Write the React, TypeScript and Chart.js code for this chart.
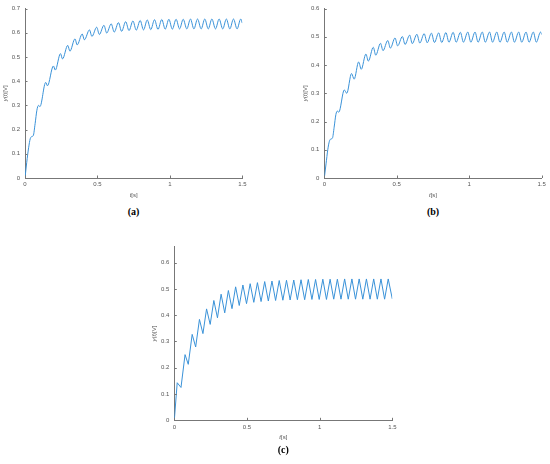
import React, { useEffect, useRef } from "react";
import { Chart, registerables } from "chart.js";

Chart.register(...registerables);

// ---------- data ----------
const xTickValues = [0, 0.5, 1, 1.5];
const yTicksA = [0, 0.1, 0.2, 0.3, 0.4, 0.5, 0.6, 0.7];
const yTicksB = [0, 0.1, 0.2, 0.3, 0.4, 0.5, 0.6];
const yTicksC = [0, 0.1, 0.2, 0.3, 0.4, 0.5, 0.6];

// (a) time [s] and output [V]
const timeA = [
  0, 0.012, 0.025, 0.036, 0.046, 0.057, 0.07, 0.082, 0.093, 0.103,
  0.143, 0.155, 0.196, 0.209, 0.245, 0.259, 0.295, 0.31, 0.345, 0.36,
  0.395, 0.41, 0.445, 0.462, 0.495, 0.513, 0.545, 0.564, 0.595, 0.616,
  0.645, 0.667, 0.695, 0.718, 0.745, 0.768, 0.795, 0.818, 0.844, 0.868,
  0.894, 0.918, 0.944, 0.968, 0.993, 1.017, 1.043, 1.067, 1.092, 1.117,
  1.142, 1.166, 1.191, 1.216, 1.241, 1.265, 1.29, 1.315, 1.34, 1.365,
  1.39, 1.414, 1.439, 1.464, 1.489, 1.5,
];
const voltA = [
  0, 0.065, 0.125, 0.162, 0.171, 0.175, 0.225, 0.28, 0.3, 0.295,
  0.395, 0.381, 0.463, 0.446, 0.514, 0.492, 0.548, 0.524, 0.575, 0.55,
  0.595, 0.571, 0.612, 0.585, 0.623, 0.593, 0.631, 0.599, 0.637, 0.603,
  0.642, 0.606, 0.646, 0.609, 0.649, 0.611, 0.651, 0.612, 0.653, 0.613,
  0.654, 0.614, 0.655, 0.615, 0.656, 0.615, 0.656, 0.616, 0.656, 0.616,
  0.657, 0.616, 0.657, 0.616, 0.657, 0.616, 0.657, 0.616, 0.657, 0.616,
  0.657, 0.616, 0.657, 0.616, 0.657, 0.64,
];

// (b)
const timeB = [
  0, 0.012, 0.024, 0.035, 0.045, 0.056, 0.068, 0.08, 0.09, 0.1,
  0.138, 0.155, 0.188, 0.206, 0.237, 0.255, 0.287, 0.304, 0.338, 0.355,
  0.388, 0.405, 0.438, 0.456, 0.488, 0.506, 0.539, 0.557, 0.589, 0.607,
  0.639, 0.659, 0.689, 0.71, 0.739, 0.76, 0.789, 0.81, 0.839, 0.86,
  0.889, 0.91, 0.939, 0.96, 0.99, 1.011, 1.04, 1.061, 1.09, 1.111,
  1.14, 1.161, 1.19, 1.212, 1.241, 1.262, 1.291, 1.312, 1.341, 1.362,
  1.392, 1.413, 1.442, 1.463, 1.492, 1.5,
];
const voltB = [
  0, 0.05, 0.1, 0.13, 0.138, 0.141, 0.18, 0.225, 0.237, 0.233,
  0.312, 0.3, 0.37, 0.35, 0.411, 0.385, 0.439, 0.414, 0.463, 0.435,
  0.477, 0.451, 0.487, 0.46, 0.496, 0.468, 0.501, 0.473, 0.506, 0.476,
  0.509, 0.478, 0.511, 0.479, 0.513, 0.48, 0.514, 0.48, 0.515, 0.481,
  0.516, 0.481, 0.516, 0.481, 0.517, 0.481, 0.517, 0.481, 0.517, 0.481,
  0.517, 0.481, 0.517, 0.481, 0.517, 0.481, 0.517, 0.481, 0.517, 0.481,
  0.517, 0.481, 0.517, 0.481, 0.517, 0.508,
];

// (c)
const timeC = [
  0, 0.02, 0.046, 0.074, 0.096, 0.123, 0.147, 0.173, 0.197, 0.222,
  0.247, 0.272, 0.297, 0.322, 0.347, 0.372, 0.397, 0.422, 0.447, 0.472,
  0.497, 0.522, 0.547, 0.572, 0.597, 0.622, 0.647, 0.672, 0.697, 0.722,
  0.747, 0.772, 0.797, 0.822, 0.847, 0.872, 0.897, 0.922, 0.947, 0.972,
  0.997, 1.022, 1.047, 1.072, 1.097, 1.122, 1.147, 1.172, 1.197, 1.222,
  1.247, 1.272, 1.297, 1.322, 1.347, 1.372, 1.397, 1.422, 1.447, 1.472,
  1.5,
];
const voltC = [
  0, 0.143, 0.125, 0.25, 0.213, 0.327, 0.279, 0.384, 0.33, 0.424,
  0.365, 0.456, 0.39, 0.48, 0.409, 0.494, 0.425, 0.508, 0.437, 0.515,
  0.444, 0.52, 0.449, 0.524, 0.452, 0.528, 0.454, 0.53, 0.456, 0.532,
  0.457, 0.533, 0.458, 0.534, 0.459, 0.535, 0.459, 0.536, 0.46, 0.536,
  0.46, 0.537, 0.46, 0.537, 0.461, 0.537, 0.461, 0.538, 0.461, 0.538,
  0.461, 0.538, 0.461, 0.538, 0.461, 0.538, 0.461, 0.538, 0.461, 0.538,
  0.462,
];

// ---------- styling ----------
const LINE_COLOR = "#3a92d8";
const AXIS_COLOR = "#777777";
const TEXT_COLOR = "#555555";
const SANS = "'Liberation Sans', Arial, sans-serif";

type Part = [string, boolean];
const yTitleParts: Part[] = [["y", true], ["(", false], ["t", true], [")[V]", false]];
const xTitleParts: Part[] = [["t", true], ["[s]", false]];

function drawRich(ctx: CanvasRenderingContext2D, parts: Part[], size: number) {
  const fonts = parts.map(([, it]) => `${it ? "italic " : ""}${size}px ${SANS}`);
  const widths = parts.map(([s], i) => {
    ctx.font = fonts[i];
    return ctx.measureText(s).width;
  });
  const total = widths.reduce((a, b) => a + b, 0);
  let x = -total / 2;
  ctx.textAlign = "left";
  ctx.textBaseline = "middle";
  ctx.fillStyle = TEXT_COLOR;
  parts.forEach(([s], i) => {
    ctx.font = fonts[i];
    ctx.fillText(s, x, 0);
    x += widths[i];
  });
}

type Area = { l: number; t: number; r: number; b: number };
type PanelProps = {
  left: number;
  top: number;
  width: number;
  height: number;
  area: Area;
  xs: number[];
  ys: number[];
  yMax: number;
  yTicks: number[];
  smooth: boolean;
  yTitleOffset: number;
};

function fmt(v: number) {
  return String(Number(v.toFixed(2)));
}

function Panel(p: PanelProps) {
  const ref = useRef<HTMLCanvasElement>(null);
  useEffect(() => {
    const canvas = ref.current;
    if (!canvas) return;
    const points = p.xs.map((x, i) => ({ x, y: p.ys[i] }));
    const decor = {
      id: "decor",
      afterDraw(chart: any) {
        const ctx: CanvasRenderingContext2D = chart.ctx;
        const ca = chart.chartArea;
        const sx = chart.scales.x;
        const sy = chart.scales.y;
        ctx.save();
        ctx.strokeStyle = AXIS_COLOR;
        ctx.lineWidth = 1;
        ctx.beginPath();
        xTickValues.forEach((v) => {
          const px = Math.round(sx.getPixelForValue(v)) + 0.5;
          ctx.moveTo(px, ca.bottom);
          ctx.lineTo(px, ca.bottom - 2.5);
        });
        p.yTicks.forEach((v) => {
          const py = Math.round(sy.getPixelForValue(v)) + 0.5;
          ctx.moveTo(ca.left, py);
          ctx.lineTo(ca.left + 2.5, py);
        });
        ctx.stroke();
        ctx.restore();

        ctx.save();
        ctx.translate(ca.left - p.yTitleOffset, (ca.top + ca.bottom) / 2);
        ctx.rotate(-Math.PI / 2);
        drawRich(ctx, yTitleParts, 6);
        ctx.restore();

        ctx.save();
        ctx.translate((ca.left + ca.right) / 2, ca.bottom + 17.5);
        drawRich(ctx, xTitleParts, 6);
        ctx.restore();
      },
    };
    const chart = new Chart(canvas, {
      type: "line",
      data: {
        datasets: [
          {
            data: points,
            borderColor: LINE_COLOR,
            borderWidth: 1,
            pointRadius: 0,
            fill: false,
            tension: p.smooth ? 0.4 : 0,
            cubicInterpolationMode: p.smooth ? "monotone" : "default",
          },
        ],
      },
      options: {
        animation: false,
        responsive: false,
        maintainAspectRatio: false,
        layout: {
          padding: { left: 0, top: p.area.t, right: p.width - p.area.r, bottom: 0 },
        },
        plugins: {
          legend: { display: false },
          tooltip: { enabled: false },
        },
        scales: {
          x: {
            type: "linear",
            min: 0,
            max: 1.5,
            afterBuildTicks: (s: any) => {
              s.ticks = xTickValues.map((v) => ({ value: v }));
            },
            afterFit: (s: any) => {
              s.height = p.height - p.area.b;
            },
            grid: { display: false, drawTicks: false },
            border: { display: true, color: AXIS_COLOR, width: 1 },
            ticks: {
              padding: 3,
              color: TEXT_COLOR,
              font: { family: SANS, size: 6 },
              maxRotation: 0,
              autoSkip: false,
              callback: (v: any) => fmt(Number(v)),
            },
          },
          y: {
            type: "linear",
            min: 0,
            max: p.yMax,
            afterBuildTicks: (s: any) => {
              s.ticks = p.yTicks.map((v) => ({ value: v }));
            },
            afterFit: (s: any) => {
              s.width = p.area.l;
            },
            grid: { display: false, drawTicks: false },
            border: { display: true, color: AXIS_COLOR, width: 1 },
            ticks: {
              padding: 5,
              color: TEXT_COLOR,
              font: { family: SANS, size: 6 },
              autoSkip: false,
              callback: (v: any) => fmt(Number(v)),
            },
          },
        },
      },
      plugins: [decor],
    } as any);
    return () => chart.destroy();
  }, []);
  return (
    <canvas
      ref={ref}
      width={p.width}
      height={p.height}
      style={{ position: "absolute", left: p.left, top: p.top, width: p.width, height: p.height }}
    />
  );
}

const labelStyle: React.CSSProperties = {
  position: "absolute",
  transform: "translate(-50%, -50%)",
  font: "bold 10px 'Liberation Serif', 'Times New Roman', serif",
  color: "#000",
  whiteSpace: "nowrap",
};

export default function App() {
  return (
    <div
      style={{
        position: "absolute",
        left: 0,
        top: 0,
        width: 550,
        height: 464,
        background: "#fff",
        overflow: "hidden",
      }}
    >
      <Panel
        left={0}
        top={0}
        width={275}
        height={200}
        area={{ l: 25, t: 6, r: 242.3, b: 178 }}
        xs={timeA}
        ys={voltA}
        yMax={0.7}
        yTicks={yTicksA}
        smooth={true}
        yTitleOffset={19.5}
      />
      <Panel
        left={275}
        top={0}
        width={275}
        height={200}
        area={{ l: 49.3, t: 6.7, r: 266.7, b: 178 }}
        xs={timeB}
        ys={voltB}
        yMax={0.6}
        yTicks={yTicksB}
        smooth={true}
        yTitleOffset={19}
      />
      <Panel
        left={140}
        top={236}
        width={280}
        height={210}
        area={{ l: 34.3, t: 10.9, r: 252.3, b: 184.3 }}
        xs={timeC}
        ys={voltC}
        yMax={0.66}
        yTicks={yTicksC}
        smooth={false}
        yTitleOffset={19.5}
      />
      <div style={{ ...labelStyle, left: 133.6, top: 211 }}>(a)</div>
      <div style={{ ...labelStyle, left: 433, top: 211 }}>(b)</div>
      <div style={{ ...labelStyle, left: 283.3, top: 449 }}>(c)</div>
    </div>
  );
}
